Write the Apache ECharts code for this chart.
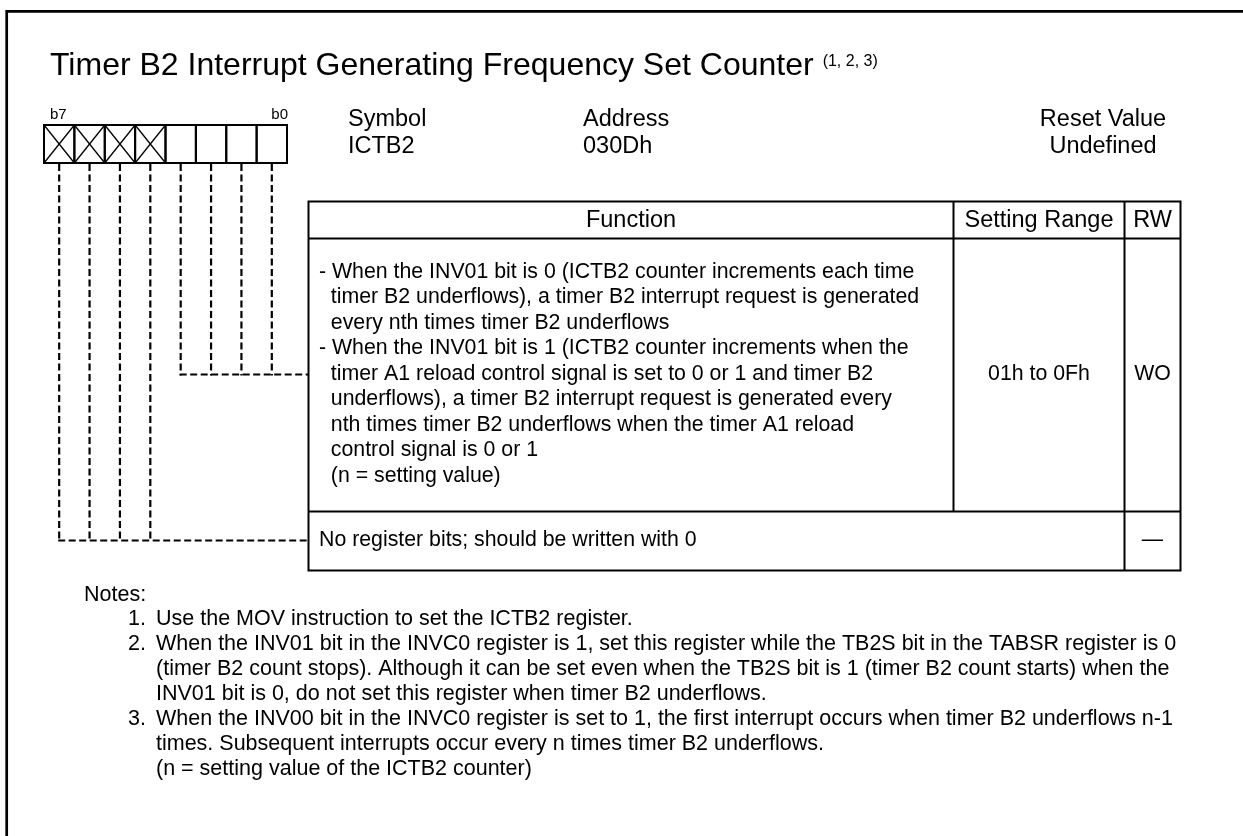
<!DOCTYPE html>
<html>
<head>
<meta charset="utf-8">
<script src="https://cdn.jsdelivr.net/npm/echarts@6/dist/echarts.min.js"></script>
<style>
html,body{margin:0;padding:0;background:#fff;}
#chart{width:1243px;height:836px;}
</style>
</head>
<body>
<div id="chart"></div>
<script>
// ---------------- DATA ----------------
const titleText = 'Timer B2 Interrupt Generating Frequency Set Counter';
const titleNotes = '(1, 2, 3)';
const bitNames = ['b7','b6','b5','b4','b3','b2','b1','b0'];
const bitReserved = [true,true,true,true,false,false,false,false];
const registerHeads = ['Symbol','Address','Reset Value'];
const registerValues = ['ICTB2','030Dh','Undefined'];
const tableHeaders = ['Function','Setting Range','RW'];
const functionLines = [
  '- When the INV01 bit is 0 (ICTB2 counter increments each time',
  '  timer B2 underflows), a timer B2 interrupt request is generated',
  '  every nth times timer B2 underflows',
  '- When the INV01 bit is 1 (ICTB2 counter increments when the',
  '  timer A1 reload control signal is set to 0 or 1 and timer B2',
  '  underflows), a timer B2 interrupt request is generated every',
  '  nth times timer B2 underflows when the timer A1 reload',
  '  control signal is 0 or 1',
  '  (n = setting value)'
];
const settingRanges = ['01h to 0Fh'];
const rwValues = ['WO','\u2014'];
const reservedText = 'No register bits; should be written with 0';
const notesTitle = 'Notes:';
const notesNumbers = ['1.','2.','','','3.','',''];
const notesLines = [
  'Use the MOV instruction to set the ICTB2 register.',
  'When the INV01 bit in the INVC0 register is 1, set this register while the TB2S bit in the TABSR register is 0',
  '(timer B2 count stops). Although it can be set even when the TB2S bit is 1 (timer B2 count starts) when the',
  'INV01 bit is 0, do not set this register when timer B2 underflows.',
  'When the INV00 bit in the INVC0 register is set to 1, the first interrupt occurs when timer B2 underflows n-1',
  'times. Subsequent interrupts occur every n times timer B2 underflows.',
  '(n = setting value of the ICTB2 counter)'
];

// ---------------- LAYOUT ----------------
const W = 1243, H = 836;
const FAMILY = 'Liberation Sans, Arial, Helvetica, sans-serif';
const L = {
  frame: {x: 6.7, y: 11.4, w: 2.7},
  title: {x: 50, y: 66.5, size: 32},
  sup: {gap: 9, y: 62, size: 16},
  bits: {x0: 44, x1: 287, y0: 125, y1: 163},
  bitLabel: {y: 115, size: 15},
  reg: {xs: [348, 583, 1103], aligns: ['left', 'left', 'center'], y1: 119.5, y2: 146.5, size: 23.5},
  table: {x0: 308.5, xs: 953.5, xr: 1124.5, x1: 1180.5, y0: 201.5, yh: 238.5, yf: 511.5, y1: 570.5},
  headSize: 23.5,
  func: {x: 319, y: 272, dy: 25.5, size: 21.3},
  groupY: [374.5, 540.5],
  notes: {x: 84, y: 595, xn: 128, xt: 156, y1: 619, dy: 25, size: 21.5}
};

function measure(text, size) {
  const c = document.createElement('canvas').getContext('2d');
  c.font = size + 'px ' + FAMILY;
  return c.measureText(text).width;
}

const chart = echarts.init(document.getElementById('chart'), null, {renderer: 'canvas'});

function txt(api, x, y, text, size, align) {
  const p = api.coord([x, y]);
  return {
    type: 'text',
    style: {
      text: text, x: p[0], y: p[1],
      fontSize: size, fontFamily: FAMILY,
      fill: '#000',
      textAlign: align || 'left',
      textVerticalAlign: 'middle'
    }
  };
}
function line(api, x1, y1, x2, y2, w, dash) {
  const a = api.coord([x1, y1]), b = api.coord([x2, y2]);
  return {
    type: 'line',
    shape: {x1: a[0], y1: a[1], x2: b[0], y2: b[1]},
    style: {stroke: '#000', lineWidth: w, lineDash: dash || null, lineCap: 'butt'}
  };
}

// bit cells + leader lines
function renderBits(params, api) {
  const i = api.value(0);
  const B = L.bits, cw = (B.x1 - B.x0) / bitNames.length;
  const x0 = B.x0 + i * cw, x1 = x0 + cw;
  const a = api.coord([x0, B.y0]), b = api.coord([x1, B.y1]);
  const ch = [{
    type: 'rect', shape: {x: a[0], y: a[1], width: b[0] - a[0], height: b[1] - a[1]},
    style: {fill: 'none', stroke: '#000', lineWidth: 2}
  }];
  if (bitReserved[i]) {
    ch.push(line(api, x0, B.y0, x1, B.y1, 1.3));
    ch.push(line(api, x1, B.y0, x0, B.y1, 1.3));
  }
  const cx = x0 + cw / 2;
  const gy = bitReserved[i] ? L.groupY[1] : L.groupY[0];
  const dash = [7, 3.5];
  ch.push(line(api, cx, B.y1 + 1, cx, gy + 1, 2.2, dash));
  const first = bitReserved.indexOf(bitReserved[i]) === i;
  if (first) ch.push(line(api, cx - 1, gy, L.table.x0, gy, 2.2, dash));
  if (i === 0) ch.push(txt(api, B.x0 + 6, L.bitLabel.y, bitNames[0], L.bitLabel.size, 'left'));
  if (i === bitNames.length - 1) ch.push(txt(api, B.x1 + 1, L.bitLabel.y, bitNames[i], L.bitLabel.size, 'right'));
  return {type: 'group', children: ch};
}

// table
function renderTable(params, api) {
  const T = L.table, ch = [];
  const a = api.coord([T.x0, T.y0]), b = api.coord([T.x1, T.y1]);
  ch.push({type: 'rect', shape: {x: a[0], y: a[1], width: b[0] - a[0], height: b[1] - a[1]},
    style: {fill: 'none', stroke: '#000', lineWidth: 2}});
  ch.push(line(api, T.x0, T.yh, T.x1, T.yh, 2));
  ch.push(line(api, T.x0, T.yf, T.x1, T.yf, 2));
  ch.push(line(api, T.xs, T.y0, T.xs, T.yf, 2));
  ch.push(line(api, T.xr, T.y0, T.xr, T.y1, 2));
  const hy = (T.y0 + T.yh) / 2 + 1;
  ch.push(txt(api, (T.x0 + T.xs) / 2, hy, tableHeaders[0], L.headSize, 'center'));
  ch.push(txt(api, (T.xs + T.xr) / 2, hy, tableHeaders[1], L.headSize, 'center'));
  ch.push(txt(api, (T.xr + T.x1) / 2, hy, tableHeaders[2], L.headSize, 'center'));
  functionLines.forEach(function (s, k) {
    ch.push(txt(api, L.func.x, L.func.y + k * L.func.dy, s, L.func.size, 'left'));
  });
  const my = L.groupY[0];
  ch.push(txt(api, (T.xs + T.xr) / 2, my, settingRanges[0], L.func.size, 'center'));
  ch.push(txt(api, (T.xr + T.x1) / 2, my, rwValues[0], L.func.size, 'center'));
  const by = L.groupY[1];
  ch.push(txt(api, L.func.x, by, reservedText, L.func.size, 'left'));
  ch.push(txt(api, (T.xr + T.x1) / 2, by, rwValues[1], L.func.size, 'center'));
  return {type: 'group', children: ch};
}

// frame, title, register info, notes
function renderPage(params, api) {
  const ch = [];
  const f = api.coord([L.frame.x, L.frame.y]);
  ch.push({type: 'rect', shape: {x: f[0], y: f[1], width: W + 20, height: H + 20},
    style: {fill: 'none', stroke: '#000', lineWidth: L.frame.w}});
  ch.push(txt(api, L.title.x, L.title.y, titleText, L.title.size, 'left'));
  const supX = L.title.x + measure(titleText, L.title.size) + L.sup.gap;
  ch.push(txt(api, supX, L.sup.y, titleNotes, L.sup.size, 'left'));
  const R = L.reg;
  registerHeads.forEach(function (h, k) {
    ch.push(txt(api, R.xs[k], R.y1, h, R.size, R.aligns[k]));
    ch.push(txt(api, R.xs[k], R.y2, registerValues[k], R.size, R.aligns[k]));
  });
  const N = L.notes;
  ch.push(txt(api, N.x, N.y, notesTitle, N.size, 'left'));
  notesLines.forEach(function (s, k) {
    const y = N.y1 + k * N.dy;
    if (notesNumbers[k]) ch.push(txt(api, N.xn, y, notesNumbers[k], N.size, 'left'));
    ch.push(txt(api, N.xt, y, s, N.size, 'left'));
  });
  return {type: 'group', children: ch};
}

chart.setOption({
  animation: false,
  backgroundColor: '#fff',
  grid: {left: 0, right: 0, top: 0, bottom: 0},
  xAxis: {type: 'value', min: 0, max: W, show: false},
  yAxis: {type: 'value', min: 0, max: H, inverse: true, show: false},
  series: [
    {type: 'custom', renderItem: renderPage, data: [[0]], silent: true, clip: false},
    {type: 'custom', renderItem: renderTable, data: [[0]], silent: true, clip: false},
    {type: 'custom', renderItem: renderBits, data: bitNames.map(function (n, i) { return [i]; }), silent: true, clip: false}
  ]
});
</script>
</body>
</html>
